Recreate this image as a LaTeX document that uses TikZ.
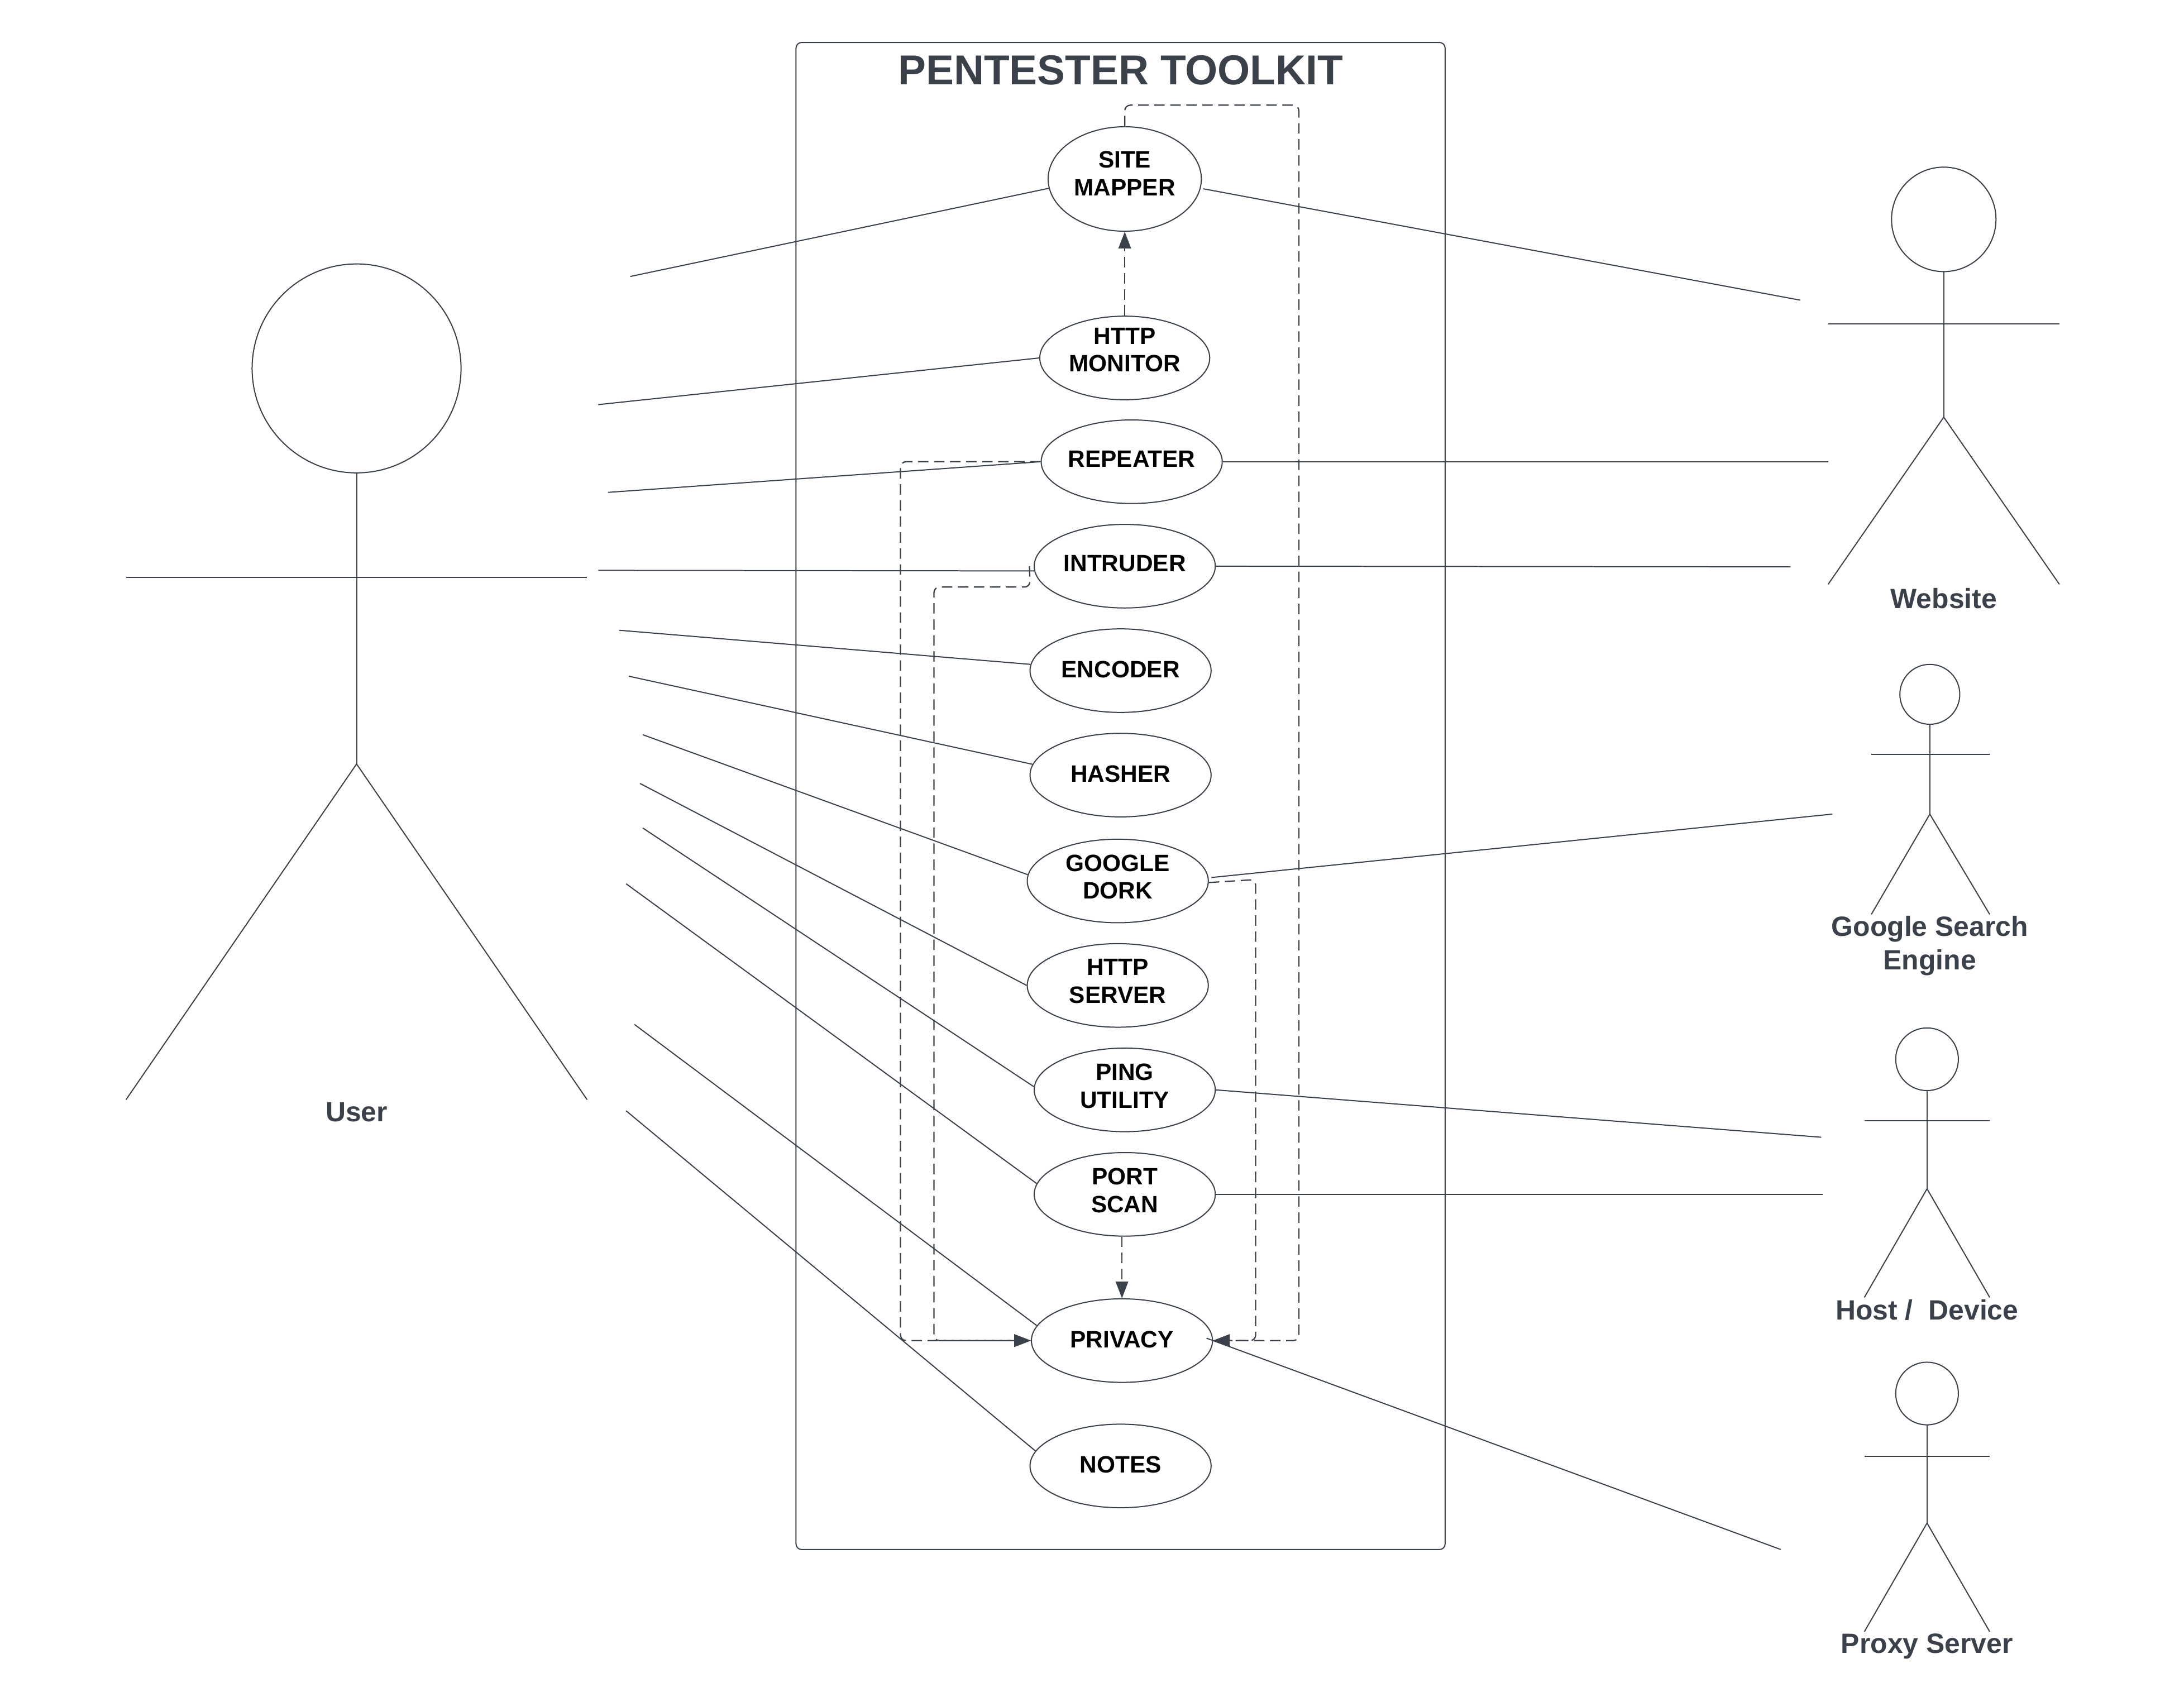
\documentclass[tikz,border=0pt]{standalone}
\usepackage{fontspec}
\setmainfont{Liberation Sans}
\usetikzlibrary{shapes.geometric,arrows.meta}
\definecolor{slate}{HTML}{3A414A}
\tikzset{
  ucase/.style={ellipse, draw=slate, line width=0.8pt, inner sep=0pt, align=center, text=black,
    minimum width=130pt, minimum height=60pt, font=\fontsize{17}{20}\selectfont\bfseries},
  actorhead/.style={circle, draw=slate, line width=0.8pt, inner sep=0pt, outer sep=0pt},
  actorname/.style={align=center, text=slate, inner sep=0pt, font=\fontsize{20}{24}\selectfont\bfseries},
  link/.style={draw=slate, line width=0.8pt},
  dep/.style={draw=slate, line width=0.9pt, dash pattern=on 7.5pt off 4pt, rounded corners=4pt},
  deparrow/.style={dep, -{Triangle[length=12pt,width=9pt]}}
}
\begin{document}
\begin{tikzpicture}[x=1pt, y=-1pt]
    \useasboundingbox (-0.5,-0.5) rectangle (1567.5,1217.5);
    % Sistema
    \node[draw=slate, line width=0.8pt, rounded corners=4pt, minimum width=466pt, minimum height=1082pt, inner sep=0pt] (toolkit) at (804,571) {};
    \node[text=slate, inner sep=0pt, font=\fontsize{30}{36}\selectfont\bfseries] (title) at (804,50) {PENTESTER TOOLKIT};
    % Casos de uso
    \node[ucase, minimum width=110pt, minimum height=75pt, text depth=8pt] (sitemapper) at (807,128) {SITE\\MAPPER};
    \node[ucase, minimum width=122pt, text height=31pt, text depth=11pt] (httpmonitor) at (807,256.5) {HTTP\\MONITOR};
    \node[ucase, text depth=4pt] (repeater) at (812,331) {REPEATER};
    \node[ucase, text depth=4pt] (intruder) at (807,406) {INTRUDER};
    \node[ucase, text depth=2pt] (encoder) at (804,481) {ENCODER};
    \node[ucase, text depth=2pt] (hasher) at (804,556) {HASHER};
    \node[ucase, text depth=6pt] (googledork) at (802,632) {GOOGLE\\DORK};
    \node[ucase, text depth=6pt] (httpserver) at (802,707) {HTTP\\SERVER};
    \node[ucase, text depth=6pt] (ping) at (807,782) {PING\\UTILITY};
    \node[ucase, text depth=6pt] (portscan) at (807,857) {PORT\\SCAN};
    \node[ucase, text depth=2pt] (privacy) at (805,962) {PRIVACY};
    \node[ucase, text depth=2pt] (notes) at (804,1052) {NOTES};
    % Actor User
    \node[actorhead, minimum size=150pt] (userhead) at (255.5,264) {};
    \coordinate (userhip) at (255.5,548);
    \coordinate (userarmL) at (90,414);
    \coordinate (userarmR) at (421,414);
    \coordinate (userfootL) at (90,789);
    \coordinate (userfootR) at (421,789);
    \draw[link] (userhead.south) -- (userhip);
    \draw[link] (userarmL) -- (userarmR);
    \draw[link] (userfootL) -- (userhip) -- (userfootR);
    \node[actorname] (username) at (255.5,798) {User};
    % Actor Website
    \node[actorhead, minimum size=75pt] (webhead) at (1395,157) {};
    \coordinate (webhip) at (1395,299);
    \coordinate (webarmL) at (1312,232);
    \coordinate (webarmR) at (1478,232);
    \coordinate (webfootL) at (1312,419);
    \coordinate (webfootR) at (1478,419);
    \draw[link] (webhead.south) -- (webhip);
    \draw[link] (webarmL) -- (webarmR);
    \draw[link] (webfootL) -- (webhip) -- (webfootR);
    \node[actorname] (webname) at (1395,429) {Website};
    % Actor Google
    \node[actorhead, minimum size=43pt] (googlehead) at (1385,498) {};
    \coordinate (googlehip) at (1385,584);
    \coordinate (googlearmL) at (1343,541);
    \coordinate (googlearmR) at (1428,541);
    \coordinate (googlefootL) at (1343,656);
    \coordinate (googlefootR) at (1428,656);
    \draw[link] (googlehead.south) -- (googlehip);
    \draw[link] (googlearmL) -- (googlearmR);
    \draw[link] (googlefootL) -- (googlehip) -- (googlefootR);
    \node[actorname] (googlename) at (1385,678.5) {Google Search\\Engine};
    % Actor Host
    \node[actorhead, minimum size=45pt] (hosthead) at (1383,760) {};
    \coordinate (hosthip) at (1383,853);
    \coordinate (hostarmL) at (1338,804);
    \coordinate (hostarmR) at (1428,804);
    \coordinate (hostfootL) at (1338,931);
    \coordinate (hostfootR) at (1428,931);
    \draw[link] (hosthead.south) -- (hosthip);
    \draw[link] (hostarmL) -- (hostarmR);
    \draw[link] (hostfootL) -- (hosthip) -- (hostfootR);
    \node[actorname] (hostname) at (1383,940) {Host /\ \ Device};
    % Actor Proxy
    \node[actorhead, minimum size=45pt] (proxyhead) at (1383,1000) {};
    \coordinate (proxyhip) at (1383,1093);
    \coordinate (proxyarmL) at (1338,1045);
    \coordinate (proxyarmR) at (1428,1045);
    \coordinate (proxyfootL) at (1338,1171);
    \coordinate (proxyfootR) at (1428,1171);
    \draw[link] (proxyhead.south) -- (proxyhip);
    \draw[link] (proxyarmL) -- (proxyarmR);
    \draw[link] (proxyfootL) -- (proxyhip) -- (proxyfootR);
    \node[actorname] (proxyname) at (1383,1181.5) {Proxy Server};
    % Lineas de User
    \coordinate (u1) at (452,198);
    \coordinate (u2) at (429,290);
    \coordinate (u3) at (436,353);
    \coordinate (u4) at (429,409);
    \coordinate (u5) at (444,452);
    \coordinate (u6) at (451,485);
    \coordinate (u7) at (461,527);
    \coordinate (u8) at (459,562);
    \coordinate (u9) at (461,594);
    \coordinate (u10) at (449,634);
    \coordinate (u11) at (455,735);
    \coordinate (u12) at (449,797);
    \draw[link] (u1) -- (sitemapper.187);
    \draw[link] (u2) -- (httpmonitor.west);
    \draw[link] (u3) -- (repeater.west);
    \draw[link] (u4) -- (intruder.183);
    \draw[link] (u5) -- (encoder.176);
    \draw[link] (u6) -- (hasher.173);
    \draw[link] (u7) -- (googledork.176);
    \draw[link] (u8) -- (httpserver.west);
    \draw[link] (u9) -- (ping.178);
    \draw[link] (u10) -- (portscan.173);
    \draw[link] (u11) -- (privacy.170);
    \draw[link] (u12) -- (notes.170);
    % Lineas de la derecha
    \coordinate (w1) at (1292,215);
    \coordinate (w2) at (1312,331);
    \coordinate (w3) at (1285,406.5);
    \coordinate (g1) at (1315,584);
    \coordinate (h1) at (1307,816);
    \coordinate (h2) at (1308,857);
    \coordinate (p1) at (1278,1112);
    \draw[link, shorten <=2pt] (sitemapper.-7) -- (w1);
    \draw[link] (repeater.east) -- (w2);
    \draw[link] (intruder.east) -- (w3);
    \draw[link, shorten <=2pt] (googledork.2) -- (g1);
    \draw[link] (ping.east) -- (h1);
    \draw[link] (portscan.east) -- (h2);
    \draw[link, shorten <=-5pt] (privacy.east) -- (p1);
    % Dependencias
    \draw[deparrow] (httpmonitor.north) -- (sitemapper.south);
    \draw[deparrow] (portscan.south -| privacy.north) -- (privacy.north);
    \draw[deparrow] (sitemapper.north) -- (807,75) -- (932,75) -- (932,962) -- (privacy.east);
    \draw[deparrow] (googledork.-1) -- (901,631) -- (901,962) -- (privacy.east);
    \draw[deparrow] (repeater.west) -- (646,331) -- (646,962) -- (privacy.west);
    \draw[deparrow] ([xshift=-3pt]intruder.west) -- (739,421) -- (670,421) -- (670,962) -- (privacy.west);
\end{tikzpicture}
\end{document}
